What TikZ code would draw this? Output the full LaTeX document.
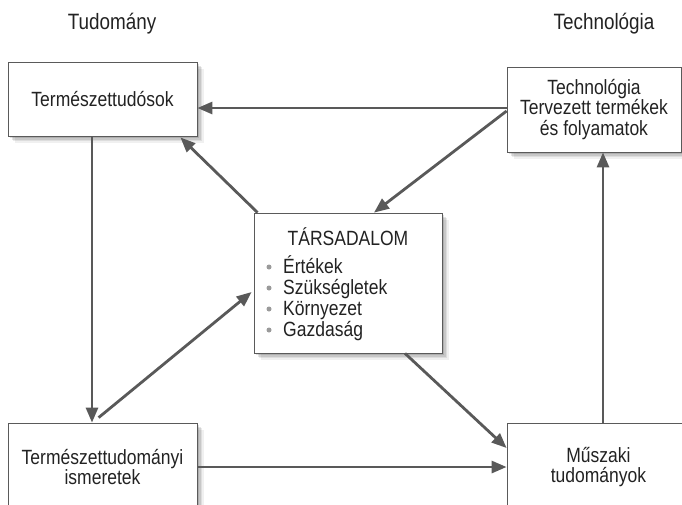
\documentclass[tikz,border=0pt]{standalone}
\usepackage{fontspec}
\setmainfont[FakeStretch=0.85]{Liberation Sans}
\usetikzlibrary{arrows.meta,shadows,calc}
\definecolor{linec}{HTML}{595959}
\definecolor{boxc}{HTML}{5A5A5A}
\definecolor{txt}{HTML}{222222}
\definecolor{dotc}{HTML}{9A9A9A}
\begin{document}
\begin{tikzpicture}[x=1pt,y=-1pt,
  box/.style={draw=boxc,line width=0.8pt,fill=white,inner sep=0pt,text=txt,align=center,
    font=\fontsize{20.6}{20.5}\selectfont,
    drop shadow={shadow xshift=2pt,shadow yshift=-2pt,opacity=.12,fill=black},
    drop shadow={shadow xshift=3.5pt,shadow yshift=-3.5pt,opacity=.10,fill=black},
    drop shadow={shadow xshift=5pt,shadow yshift=-5pt,opacity=.08,fill=black},
    drop shadow={shadow xshift=6.5pt,shadow yshift=-6.5pt,opacity=.06,fill=black}},
  lbl/.style={text=txt,inner sep=0pt,font=\fontsize{20.6}{20.5}\selectfont},
  head/.style={text=txt,inner sep=0pt,font=\fontsize{22.2}{24}\selectfont},
  bdot/.style={circle,fill=dotc,inner sep=0pt,minimum size=5pt},
  arr/.style={draw=linec,line width=2.8pt,-{Triangle[length=15pt,width=12pt]}}]
\path[use as bounding box] (0,0) rectangle (682,504);
\clip (0,0) rectangle (682,504);

\node[head] (hsci) at (112,24) {Tudomány};
\node[head] (htech) at (604,24) {Technológia};

\node[box,minimum width=189pt,minimum height=74pt] (nat) at (102.5,99) {Természettudósok};
\node[box,minimum width=174pt,minimum height=85pt] (tech) at (594,109.5) {Technológia\\Tervezett termékek\\és folyamatok};
\node[box,minimum width=188pt,minimum height=140pt] (soc) at (348,283) {};
\node[box,minimum width=189pt,minimum height=88pt] (kn) at (102.5,467) {Természettudományi\\ismeretek};
\node[box,minimum width=183pt,minimum height=88pt] (eng) at (598.5,467) {Műszaki\\tudományok};

\node[lbl,anchor=base] (title) at (348,245) {TÁRSADALOM};
\node[lbl,anchor=base west] (i1) at (283,273) {Értékek};
\node[lbl,anchor=base west] (i2) at (283,294) {Szükségletek};
\node[lbl,anchor=base west] (i3) at (283,315) {Környezet};
\node[lbl,anchor=base west] (i4) at (283,336) {Gazdaság};
\node[bdot] (d1) at (269,267) {};
\node[bdot] (d2) at (269,288) {};
\node[bdot] (d3) at (269,309) {};
\node[bdot] (d4) at (269,330) {};

\draw[arr] (tech.west |- 0,108) -- (nat.east |- 0,108);
\draw[arr] (tech.west |- 0,111) -- ($(soc.north)+(26,0)$);
\draw[arr] ($(soc.north west)+(4,0)$) -- ($(nat.south east)+(-17,1)$);
\draw[arr] (nat.south -| 92,0) -- (kn.north -| 92,0);
\draw[arr] ($(kn.north west)+(91,-5)$) -- ($(soc.west)+(-2,9)$);
\draw[arr] ($(soc.south)+(57,0)$) -- ($(eng.west)+(0,-19)$);
\draw[arr] (kn.east) -- (eng.west);
\draw[arr] (eng.north -| 603,0) -- (tech.south -| 603,0);
\end{tikzpicture}
\end{document}
